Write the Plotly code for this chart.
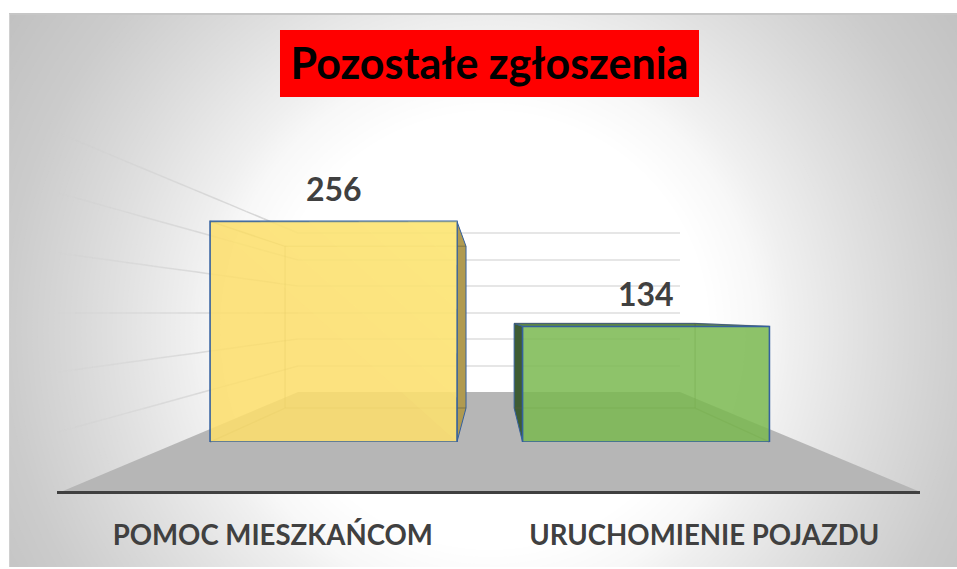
import numpy as np
import plotly.graph_objects as go

W, H = 957, 569

# --- data ---
categories = ["POMOC MIESZKAŃCOM", "URUCHOMIENIE POJAZDU"]
values = [256, 134]
bar_colors = ["rgba(252,222,109,0.88)", "rgba(122,185,80,0.85)"]
side_colors = ["rgb(176,154,80)", "rgb(62,92,52)"]
top_colors = ["rgb(230,200,100)", "rgb(94,138,69)"]
title_text = "Pozostałe zgłoszenia"

# --- layout constants (pixels of the page) ---
FONT = "Lato"
TEXT = "#404040"
OUTLINE = "#34609f"
BASE_Y = 442          # pixel of value 0 on the front plane
PX_PER_UNIT = 0.862
Y_MAX = 300
PLOT_L, PLOT_R = 177.25, 802.25
BAR_WIDTH = 0.79
VP_X, VP_Y, DEPTH = 491, 315, 0.733  # perspective of the bars
AXIS_L, AXIS_R, AXIS_Y = 57, 920, 491


def fx(x):
    return x / W


def fy(y):
    return 1 - y / H


def back(x, y):
    return VP_X + DEPTH * (x - VP_X), VP_Y + DEPTH * (y - VP_Y)


def path_of(points):
    return "M " + " L ".join(f"{fx(x):.5f},{fy(y):.5f}" for x, y in points) + " Z"


shapes = []


def poly(points, fill, line=None, width=1, layer="below"):
    shapes.append(dict(type="path", xref="paper", yref="paper", path=path_of(points),
                       fillcolor=fill, line=dict(color=line or "rgba(0,0,0,0)", width=width),
                       layer=layer))


def seg(x0, y0, x1, y1, color, width=1.5):
    shapes.append(dict(type="line", xref="paper", yref="paper",
                       x0=fx(x0), y0=fy(y0), x1=fx(x1), y1=fy(y1),
                       line=dict(color=color, width=width), layer="below"))


# background: radial fade built from concentric circles
CX, CY = 490, 330
ring_drop = [0, 7, 15, 30, 38, 51, 60, 70]
ring_dist = [220, 270, 300, 373, 414, 485, 561, 640]
for drop in range(70, -1, -1):
    d = float(np.interp(drop, ring_drop, ring_dist))
    v = 255 - drop
    shapes.append(dict(type="circle", xref="paper", yref="paper",
                       x0=fx(CX - d), x1=fx(CX + d), y0=fy(CY + d), y1=fy(CY - d),
                       fillcolor=f"rgb({v},{v},{v})", line=dict(width=0), layer="below"))

# white page margin and frame
poly([(0, 0), (W, 0), (W, 13), (0, 13)], "white")
poly([(0, 0), (9, 0), (9, H), (0, H)], "white")
poly([(0, 567), (W, 567), (W, H), (0, H)], "white")
seg(9, 14, W, 14, "#c6c6c6", 2)
seg(9.5, 14, 9.5, 567, "#d0d0d0", 1)

# title box
poly([(280, 30), (699, 30), (699, 97), (280, 97)], "#ff0000")

# floor
poly([(AXIS_L + 6, AXIS_Y), (AXIS_R - 2, AXIS_Y), (680, 392), (298, 392)], "#b6b6b6")

# back wall grid and fading side wall grid
wall_back = [233, 260, 286, 313, 339, 366]
wall_front = [133, 193, 253, 313, 372, 432]
for yb, yf in zip(wall_back, wall_front):
    seg(298, yb, 680, yb, "#dedede", 1.5)
    n = 14
    for i in range(n):
        t0, t1 = i / n, (i + 1) / n
        alpha = 0.85 * (1 - t0) ** 0.8 + 0.05
        seg(298 + (58 - 298) * t0, yb + (yf - yb) * t0,
            298 + (58 - 298) * t1, yb + (yf - yb) * t1,
            f"rgba(205,205,205,{alpha:.2f})", 1.5)

# depth of the bars, derived from the values
centers = [PLOT_L + (PLOT_R - PLOT_L) * (i + 0.5) / len(categories) for i in range(len(categories))]
half = (PLOT_R - PLOT_L) / len(categories) * BAR_WIDTH / 2
for c, val, side, top in zip(centers, values, side_colors, top_colors):
    l, r = c - half, c + half
    t, b = BASE_Y - val * PX_PER_UNIT, BASE_Y
    bl, bt = back(l, t)
    br, bb = back(r, b)
    inner = "rgba(90,90,60,0.38)"
    if t > VP_Y:
        poly([(l, t), (r, t), (br, bt), (bl, bt)], top, OUTLINE, 1)
    if r < VP_X:
        poly([(r, t), (br, bt), (br, bb), (r, b)], side, OUTLINE, 1)
    if l > VP_X:
        poly([(l, t), (bl, bt), (bl, bb), (l, b)], side, OUTLINE, 1)
    seg(bl, bt, br, bt, inner, 1.5)
    seg(bl, bb, br, bb, inner, 1.5)
    if l < VP_X:
        seg(bl, bt, bl, bb, inner, 1.5)
        seg(l, t, bl, bt, inner, 1.5)
        seg(l, b, bl, bb, inner, 1.5)
    else:
        seg(br, bt, br, bb, inner, 1.5)
        seg(r, t, br, bt, inner, 1.5)
        seg(r, b, br, bb, inner, 1.5)

# soft light sheen towards the top right corner of the first bar
c0 = centers[0]
l0, r0, t0_ = c0 - half, c0 + half, BASE_Y - values[0] * PX_PER_UNIT
for frac in [1.0, 0.8, 0.6, 0.4, 0.2]:
    poly([(r0, t0_), (r0 - (r0 - l0) * frac, t0_), (r0, t0_ + (BASE_Y - t0_) * frac)],
         "rgba(255,240,130,0.13)", layer="above")

fig = go.Figure()
fig.add_trace(go.Bar(x=categories, y=values, width=BAR_WIDTH,
                     marker=dict(color=bar_colors, line=dict(color=OUTLINE, width=1.6)),
                     hoverinfo="skip", showlegend=False))
fig.add_trace(go.Scatter(x=categories, y=values, xaxis="x2", yaxis="y2", mode="markers",
                         marker=dict(opacity=0), hoverinfo="skip", showlegend=False))

annotations = [dict(x=c, y=v, xref="x", yref="y", text=f"<b>{v}</b>", showarrow=False,
                    yanchor="bottom", yshift=11, xshift=0,
                    font=dict(family=FONT, size=32, color=TEXT))
               for c, v in zip(categories, values)]

fig.update_layout(
    width=W, height=H, autosize=False,
    margin=dict(l=0, r=0, t=0, b=0, pad=0),
    paper_bgcolor="#bebebe", plot_bgcolor="rgba(0,0,0,0)",
    showlegend=False, shapes=shapes, annotations=annotations,
    title=dict(text=f"<b>{title_text}</b>", x=fx(489.5), y=fy(64), xanchor="center", yanchor="middle",
               xref="paper", yref="paper", font=dict(family=FONT, size=43, color="black")),
    xaxis=dict(domain=[fx(PLOT_L), fx(PLOT_R)], range=[-0.5, 1.5], type="category",
               categoryorder="array", categoryarray=categories,
               showticklabels=False, showgrid=False, zeroline=False, showline=False, ticks=""),
    yaxis=dict(domain=[fy(BASE_Y), fy(BASE_Y - Y_MAX * PX_PER_UNIT)], range=[0, Y_MAX],
               showticklabels=False, showgrid=False, zeroline=False, showline=False, ticks=""),
    xaxis2=dict(domain=[fx(AXIS_L), fx(AXIS_R)], range=[-0.5, 1.5], type="category", anchor="y2",
                categoryorder="array", categoryarray=categories,
                showgrid=False, zeroline=False, showline=True, linecolor="#404040", linewidth=3,
                ticks="outside", ticklen=18, tickcolor="rgba(0,0,0,0)",
                tickangle=0, tickfont=dict(family=FONT, size=27.6, color=TEXT, weight="bold")),
    yaxis2=dict(domain=[fy(AXIS_Y), fy(BASE_Y - Y_MAX * PX_PER_UNIT)], range=[0, 1], anchor="x2",
                visible=False),
)

fig.write_html("out.html", config={"displayModeBar": False},
               post_script="document.body.style.margin='0';")
